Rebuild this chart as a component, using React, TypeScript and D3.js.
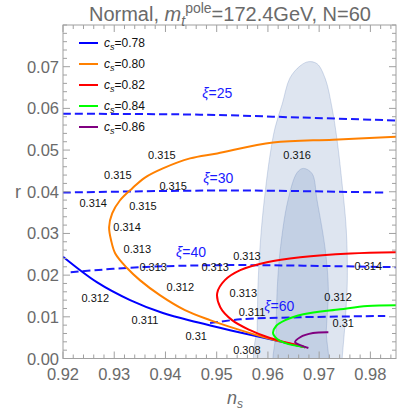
import React from 'react';
import * as d3 from 'd3';

// c_s curves in (n_s, r)
const blueNs = [0.92, 0.9266, 0.9331, 0.9395, 0.9462, 0.9526, 0.9594, 0.9672];
const blueR = [0.0244, 0.0183, 0.014, 0.0109, 0.0087, 0.0068, 0.0049, 0.0027];

const orangeNs = [0.985, 0.9727, 0.961, 0.9501, 0.9448, 0.9395, 0.936, 0.9335, 0.9311, 0.9296, 0.929, 0.9294, 0.9302, 0.9325, 0.935, 0.9389, 0.9438, 0.9487, 0.9546, 0.9604, 0.9673];
const orangeR = [0.0532, 0.0525, 0.0518, 0.0492, 0.048, 0.0456, 0.0434, 0.0408, 0.0379, 0.0348, 0.0315, 0.0283, 0.0252, 0.0217, 0.0188, 0.0152, 0.0116, 0.0092, 0.0068, 0.0047, 0.0027];

const redNs = [0.985, 0.9761, 0.9663, 0.9598, 0.9546, 0.9516, 0.9501, 0.9507, 0.953, 0.9565, 0.9604, 0.9673];
const redR = [0.0255, 0.0252, 0.0243, 0.0231, 0.0212, 0.0188, 0.0157, 0.0123, 0.0092, 0.0068, 0.0049, 0.0027];

const greenNs = [0.985, 0.9794, 0.9741, 0.9669, 0.9634, 0.9616, 0.961, 0.9618, 0.9634, 0.9673];
const greenR = [0.0128, 0.0126, 0.0118, 0.0106, 0.0092, 0.0078, 0.0061, 0.0047, 0.0037, 0.0027];

const purpleNs = [0.9718, 0.9688, 0.9663, 0.9653, 0.9663, 0.9679];
const purpleR = [0.0063, 0.0061, 0.0051, 0.0039, 0.0032, 0.0025];

const csLabels = ['0.78', '0.80', '0.82', '0.84', '0.86'];

// constant xi lines
const xi25Ns = [0.92, 0.9468, 0.9663, 0.985];
const xi25R = [0.0587, 0.0585, 0.0578, 0.0571];
const xi30Ns = [0.92, 0.9526, 0.9829];
const xi30R = [0.0398, 0.0403, 0.0398];
const xi40Ns = [0.9215, 0.935, 0.9526, 0.985];
const xi40R = [0.0207, 0.0219, 0.0224, 0.0219];
const xi60Ns = [0.9487, 0.9546, 0.9663, 0.9829];
const xi60R = [0.0085, 0.0094, 0.0099, 0.0102];

const xiNames = ['25', '30', '40', '60'];
const xiLabelNs = [0.9501, 0.9503, 0.945, 0.9622];
const xiLabelR = [0.0638, 0.0434, 0.0255, 0.0126];

// Planck contours
const outerNs = [0.9679, 0.9696, 0.9712, 0.9725, 0.9735, 0.9745, 0.9753, 0.9755, 0.9751, 0.9745, 0.9743, 0.9579, 0.9579, 0.9579, 0.9581, 0.9587, 0.9595, 0.9604, 0.9614, 0.9628, 0.9643, 0.9663];
const outerR = [0.0712, 0.0707, 0.0671, 0.0602, 0.0524, 0.0416, 0.0308, 0.0188, 0.0092, 0.0001, -0.0035, -0.0035, 0.0068, 0.0068, 0.0188, 0.0307, 0.0403, 0.0487, 0.0554, 0.0611, 0.0673, 0.0702];
const innerNs = [0.9669, 0.9686, 0.9696, 0.9712, 0.9718, 0.9714, 0.9712, 0.9616, 0.9616, 0.9618, 0.9624, 0.9639, 0.9657];
const innerR = [0.0456, 0.0444, 0.0379, 0.026, 0.0164, 0.0068, -0.0035, -0.0035, 0.0068, 0.0164, 0.026, 0.0379, 0.0446];

// value labels
const valText = ['0.315', '0.315', '0.315', '0.314', '0.315', '0.314', '0.313', '0.313', '0.312', '0.312', '0.311', '0.31', '0.316', '0.313', '0.313', '0.314', '0.313', '0.312', '0.311', '0.31', '0.308'];
const valNs = [0.9393, 0.9307, 0.9415, 0.9259, 0.9356, 0.9325, 0.9345, 0.9376, 0.9429, 0.9263, 0.936, 0.946, 0.9657, 0.9559, 0.9497, 0.9796, 0.9552, 0.9737, 0.9569, 0.9747, 0.9559];
const valR = [0.0489, 0.0439, 0.0413, 0.0372, 0.0365, 0.0315, 0.0262, 0.0219, 0.0171, 0.0145, 0.0092, 0.0054, 0.0489, 0.0245, 0.0219, 0.0221, 0.0157, 0.0147, 0.0111, 0.0085, 0.002];

const nsTicks = [0.92, 0.93, 0.94, 0.95, 0.96, 0.97, 0.98];
const rTicks = [0, 0.01, 0.02, 0.03, 0.04, 0.05, 0.06, 0.07];

const M = { left: 63, right: 396, top: 25, bottom: 358.5 };
const FONT = '"Liberation Sans", Arial, sans-serif';

export default function App() {
  const x = d3.scaleLinear().domain([0.92, 0.985]).range([M.left, M.right]);
  const y = d3.scaleLinear().domain([0, 0.08]).range([M.bottom, M.top]);

  const path = (ns: number[], r: number[], curve: any = d3.curveCatmullRom) =>
    d3.line<number>().x((_, i) => x(ns[i])).y((_, i) => y(r[i])).curve(curve)(ns.map((_, i) => i)) || '';

  const series = [
    { ns: blueNs, r: blueR, color: '#0000ff' },
    { ns: orangeNs, r: orangeR, color: '#ff8000' },
    { ns: redNs, r: redR, color: '#ff0000' },
    { ns: greenNs, r: greenR, color: '#00ff00' },
    { ns: purpleNs, r: purpleR, color: '#800080' },
  ];
  const xiLines = [
    [xi25Ns, xi25R], [xi30Ns, xi30R], [xi40Ns, xi40R], [xi60Ns, xi60R],
  ];

  const minorX = d3.range(0.92, 0.9851, 0.002);
  const minorY = d3.range(0, 0.0801, 0.002);
  const axisColor = '#a0a0a0';
  const textGray = '#6a6a6a';

  return (
    <svg width={399} height={410} style={{ position: 'absolute', left: 0, top: 0, background: '#fff' }} fontFamily={FONT}>
      <defs>
        <clipPath id="plot">
          <rect x={M.left} y={M.top} width={M.right - M.left} height={M.bottom - M.top} />
        </clipPath>
      </defs>

      <g clipPath="url(#plot)">
        <path d={path(outerNs, outerR, d3.curveCatmullRomClosed)} fill="#5b7bb5" fillOpacity={0.2} stroke="#5b7bb5" strokeOpacity={0.25} />
        <path d={path(innerNs, innerR, d3.curveCatmullRomClosed)} fill="#5b7bb5" fillOpacity={0.2} stroke="#5b7bb5" strokeOpacity={0.25} />

        {xiLines.map(([ns, r], i) => (
          <path key={'xi' + i} d={path(ns, r)} fill="none" stroke="#1a1aff" strokeWidth={2} strokeDasharray="8,4" />
        ))}

        {series.map((s, i) => (
          <path key={'s' + i} d={path(s.ns, s.r)} fill="none" stroke={s.color} strokeWidth={2} />
        ))}
      </g>

      {valText.map((t, i) => (
        <text key={'v' + i} x={x(valNs[i])} y={y(valR[i])} fontSize={11} textAnchor="middle" dominantBaseline="central" fill="#111">{t}</text>
      ))}

      {xiNames.map((n, i) => (
        <text key={'xl' + i} x={x(xiLabelNs[i])} y={y(xiLabelR[i])} fontSize={14} textAnchor="middle" dominantBaseline="central" fill="#1a1aff">
          <tspan fontStyle="italic">ξ</tspan>={n}
        </text>
      ))}

      {/* frame */}
      <rect x={M.left} y={M.top} width={M.right - M.left} height={M.bottom - M.top} fill="none" stroke={axisColor} strokeWidth={1} />
      {minorX.map((v, i) => {
        const major = nsTicks.some(t => Math.abs(t - v) < 1e-6);
        const len = major ? 7 : 4;
        return (
          <g key={'tx' + i} stroke={axisColor}>
            <line x1={x(v)} x2={x(v)} y1={M.bottom} y2={M.bottom - len} />
            <line x1={x(v)} x2={x(v)} y1={M.top} y2={M.top + len} />
          </g>
        );
      })}
      {minorY.map((v, i) => {
        const major = rTicks.some(t => Math.abs(t - v) < 1e-6);
        const len = major ? 7 : 4;
        return (
          <g key={'ty' + i} stroke={axisColor}>
            <line x1={M.left} x2={M.left + len} y1={y(v)} y2={y(v)} />
            <line x1={M.right} x2={M.right - len} y1={y(v)} y2={y(v)} />
          </g>
        );
      })}
      {nsTicks.map(t => (
        <text key={'xt' + t} x={x(t)} y={380} fontSize={16.5} textAnchor="middle" fill={textGray}>{t.toFixed(2)}</text>
      ))}
      {rTicks.map(t => (
        <text key={'yt' + t} x={59} y={y(t)} fontSize={16.5} textAnchor="end" dominantBaseline="central" fill={textGray}>{t.toFixed(2)}</text>
      ))}

      {/* legend */}
      {series.map((s, i) => (
        <g key={'lg' + i}>
          <line x1={79} x2={98} y1={43 + i * 21} y2={43 + i * 21} stroke={s.color} strokeWidth={2} />
          <text x={104} y={47 + i * 21} fontSize={12} fill="#111">
            <tspan fontStyle="italic">c</tspan>
            <tspan fontStyle="italic" fontSize={9} dy={3}>s</tspan>
            <tspan dy={-3}>={csLabels[i]}</tspan>
          </text>
        </g>
      ))}

      {/* titles */}
      <text x={230} y={21} fontSize={20} textAnchor="middle" fill={textGray}>
        Normal, <tspan fontStyle="italic">m</tspan>
        <tspan fontStyle="italic" fontSize={14} dy={5}>t</tspan>
        <tspan fontSize={14} dy={-13}>pole</tspan>
        <tspan dy={8}>=172.4GeV, N=60</tspan>
      </text>
      <text x={227} y={404} fontSize={18} fill={textGray}>
        <tspan fontStyle="italic">n</tspan>
        <tspan fontStyle="italic" fontSize={12} dy={4}>s</tspan>
      </text>
      <text x={18} y={192} fontSize={18} textAnchor="middle" dominantBaseline="central" fill={textGray}>r</text>
    </svg>
  );
}
